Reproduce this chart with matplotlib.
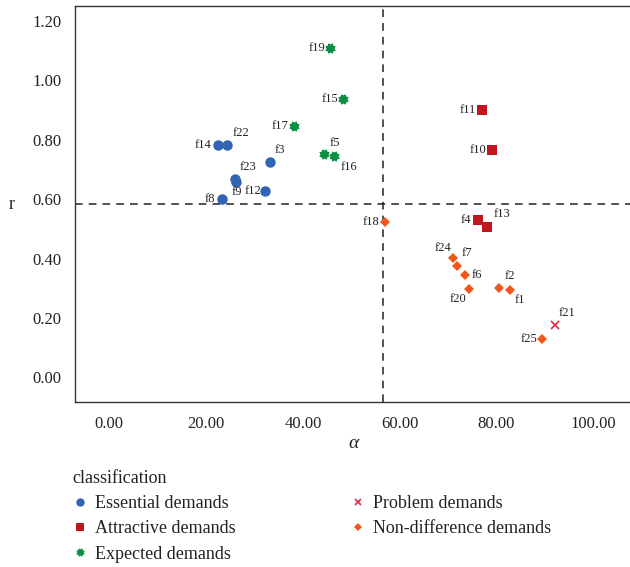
import matplotlib
matplotlib.use("Agg")
import numpy as np
import matplotlib.pyplot as plt
from matplotlib.lines import Line2D
from matplotlib.path import Path

plt.rcParams['font.family'] = ['Liberation Serif', 'DejaVu Serif']

# ---- data ----
labels_ess = ["f14", "f22", "f3", "f23", "f9", "f12", "f8"]
alpha_ess = [22.4, 24.4, 33.2, 26.0, 26.2, 32.2, 23.2]
r_ess = [0.782, 0.782, 0.726, 0.667, 0.659, 0.627, 0.601]

labels_att = ["f11", "f10", "f4", "f13"]
alpha_att = [77.1, 79.0, 76.2, 78.0]
r_att = [0.900, 0.765, 0.530, 0.507]

labels_exp = ["f19", "f15", "f17", "f5", "f16"]
alpha_exp = [45.5, 48.3, 38.2, 44.4, 46.5]
r_exp = [1.108, 0.937, 0.847, 0.753, 0.744]

labels_prob = ["f21"]
alpha_prob = [92.1]
r_prob = [0.175]

labels_nd = ["f18", "f24", "f7", "f6", "f20", "f2", "f1", "f25"]
alpha_nd = [57.0, 71.1, 71.8, 73.4, 74.3, 80.5, 82.8, 89.5]
r_nd = [0.522, 0.401, 0.376, 0.344, 0.297, 0.302, 0.294, 0.129]

alpha_mean = 56.5
r_mean = 0.584

x_ticks = [0, 20, 40, 60, 80, 100]
y_ticks = [0.0, 0.2, 0.4, 0.6, 0.8, 1.0, 1.2]

# label offsets in pixels (dx right, dy up)
label_offsets = {
    "f19": (-13, 0), "f15": (-13, 0), "f11": (-15, 0), "f10": (-14, 0),
    "f18": (-14, 0), "f5": (11, 11), "f16": (15, -11), "f4": (-12, 0),
    "f13": (15, 13), "f17": (-14, 0), "f14": (-15, 0), "f22": (14, 12),
    "f3": (10, 12), "f23": (13, 12), "f9": (1, -10), "f12": (-12, 0),
    "f8": (-12, 0), "f24": (-10, 10), "f7": (10, 13), "f6": (12, 0),
    "f20": (-11, -10), "f2": (11, 12), "f1": (10, -10), "f21": (12, 12),
    "f25": (-13, 0),
}

# gear-like 8-point star marker
_ang = np.linspace(0, 2 * np.pi, 17)[:-1] + np.pi / 8
_rad = np.where(np.arange(16) % 2 == 0, 1.0, 0.72)
_verts = np.column_stack([_rad * np.cos(_ang), _rad * np.sin(_ang)])
_verts = np.vstack([_verts, _verts[:1]])
star_marker = Path(_verts, [Path.MOVETO] + [Path.LINETO] * 15 + [Path.CLOSEPOLY])

fig = plt.figure(figsize=(6.3, 5.67), dpi=100)
ax = fig.add_axes([75 / 630, 1 - 402 / 567, 1 - 75 / 630, (402 - 5.7) / 567])

groups = [
    ("Essential demands", labels_ess, alpha_ess, r_ess, "o", "#3264b4", 7.5),
    ("Attractive demands", labels_att, alpha_att, r_att, "s", "#c0161f", 7.5),
    ("Expected demands", labels_exp, alpha_exp, r_exp, star_marker, "#0b8f43", 7.5),
    ("Problem demands", labels_prob, alpha_prob, r_prob, "x", "#e8253a", 6),
    ("Non-difference demands", labels_nd, alpha_nd, r_nd, "D", "#f2561d", 5.5),
]

handles = []
for name, labs, xs, ys, mk, col, ms in groups:
    is_x = isinstance(mk, str) and mk == "x"
    ax.plot(xs, ys, linestyle="none", marker=mk, color=col, markersize=ms,
            markeredgewidth=1.2 if is_x else 0, zorder=3)
    handles.append(Line2D([], [], linestyle="none", marker=mk, color=col,
                          markersize=ms * 0.8,
                          markeredgewidth=1.2 if is_x else 0, label=name))
    for lab, x, y in zip(labs, xs, ys):
        dx, dy = label_offsets[lab]
        ax.annotate(lab, (x, y), xytext=(dx * 0.72, dy * 0.72),
                    textcoords="offset points", ha="center", va="center",
                    fontsize=9, color="#222222", zorder=4)

ax.axvline(alpha_mean, color="#222222", linestyle=(0, (5, 4)), linewidth=1.1, zorder=2)
ax.axhline(r_mean, color="#222222", linestyle=(0, (5, 4)), linewidth=1.1, zorder=2)

ax.set_xlim(-7.1, 107.6)
ax.set_ylim(-0.083, 1.251)
ax.set_xticks(x_ticks)
ax.set_xticklabels([f"{v:.2f}" for v in x_ticks])
ax.set_yticks(y_ticks)
ax.set_yticklabels([f"{v:.2f}" for v in y_ticks])
ax.tick_params(length=0, labelsize=12, colors="#222222", pad=10)
for s in ["top", "left", "bottom"]:
    ax.spines[s].set_color("#333333")
    ax.spines[s].set_linewidth(1.0)
ax.spines["right"].set_visible(False)

fig.text(12 / 630, 1 - 205 / 567, "r", fontsize=13, ha="center", va="center", color="#222222")
fig.text(354 / 630, 1 - 443 / 567, "α", fontsize=14, style="italic",
         ha="center", va="center", color="#222222")

leg = fig.legend(handles=handles, ncol=2, loc="upper left",
                 bbox_to_anchor=(69 / 630, 1 - 466 / 567),
                 title="classification", frameon=False, fontsize=13,
                 title_fontsize=13, alignment="left", handlelength=0.8,
                 handletextpad=0.45, columnspacing=6.35, labelspacing=0.46,
                 borderpad=0.2, borderaxespad=0)
for t in leg.get_texts():
    t.set_color("#222222")
leg.get_title().set_color("#222222")

fig.savefig("out.png", dpi=100)
